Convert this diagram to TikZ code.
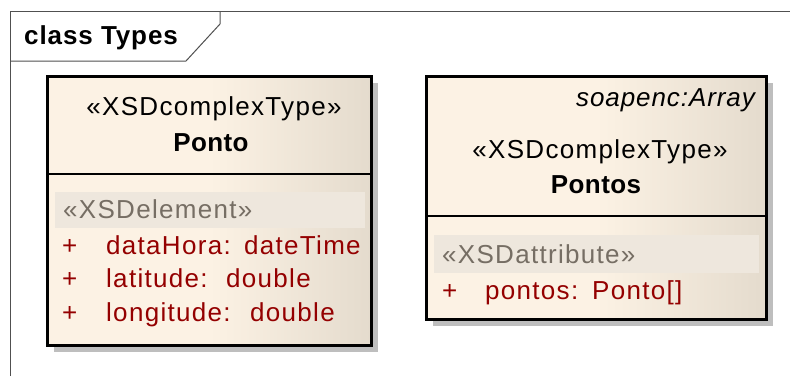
\documentclass[tikz,border=0pt]{standalone}
\usepackage{fontspec}
\setmainfont{Liberation Sans}
\newfontfamily\regfam[LetterSpace=5]{Liberation Sans}
\newfontfamily\bldfam[LetterSpace=1.5]{Liberation Sans}
\newfontfamily\titfam[LetterSpace=3.5]{Liberation Sans}
\newfontfamily\itfam[LetterSpace=3.5]{Liberation Sans}
\definecolor{cL}{RGB}{252,242,228}
\definecolor{cR}{RGB}{228,219,205}
\definecolor{bandc}{RGB}{238,231,221}
\definecolor{stereo}{RGB}{118,110,100}
\definecolor{attr}{RGB}{148,0,0}
\definecolor{framec}{RGB}{80,80,80}
\definecolor{shadowc}{RGB}{190,190,190}
\pgfdeclarehorizontalshading{cream}{100bp}{color(0bp)=(cL); color(25bp)=(cL); color(50bp)=(cL); color(75bp)=(cR); color(100bp)=(cR)}
\begin{document}
\begin{tikzpicture}[x=1pt,y=-1pt,
  classbox/.style={draw=black, line width=2.6pt, shading=cream, inner sep=0, anchor=north west},
  txt/.style={inner sep=0, font=\regfam\fontsize{26}{30}\selectfont},
  bold/.style={inner sep=0, font=\bldfam\bfseries\fontsize{26}{30}\selectfont},
  titletxt/.style={inner sep=0, font=\titfam\bfseries\fontsize{26}{30}\selectfont},
  ital/.style={inner sep=0, font=\itfam\itshape\fontsize{26}{30}\selectfont},
  ster/.style={txt, text=stereo, anchor=base west},
  att/.style={txt, text=attr, anchor=base west},
  band/.style={fill=bandc, draw=none}]
\useasboundingbox (0,0) rectangle (790,376);
\fill[white] (0,0) rectangle (790,376);
% frame
\draw[framec, line width=1pt] (10,376) -- (10,11) -- (790,11);
\draw[framec, line width=1pt] (10,61) -- (186,61) -- (220,24) -- (220,11);
\node[titletxt, anchor=base west] (title) at (24,44) {class Types};
% shadows
\fill[shadowc] (54,83) rectangle (378,352);
\fill[shadowc] (433,83) rectangle (773,326);
% Ponto
\node[classbox, minimum width=324pt, minimum height=269pt] (ponto) at (46,75) {};
\draw[line width=2.2pt] (46,174) -- (370,174);
\node[txt, anchor=base] (pst) at (214,115) {«XSDcomplexType»};
\node[bold, anchor=base] (pname) at (211,151) {Ponto};
\fill[band] (55,192) rectangle (365,228);
\node[ster] (pel) at (63,218) {«XSDelement»};
\node[att] (p1) at (62,254) {+};
\node[att] (a1) at (106,254) {dataHora:};
\node[att] (t1) at (244,254) {dateTime};
\node[att] (p2) at (62,287) {+};
\node[att] (a2) at (106,287) {latitude:};
\node[att] (t2) at (226,287) {double};
\node[att] (p3) at (62,321) {+};
\node[att] (a3) at (106,321) {longitude:};
\node[att] (t3) at (250,321) {double};
% Pontos
\node[classbox, minimum width=340pt, minimum height=243pt] (pontos) at (425,75) {};
\draw[line width=2.2pt] (425,216) -- (765,216);
\node[ital, anchor=base east] (arr) at (755,106) {soapenc:Array};
\node[txt, anchor=base] (sst) at (600,158) {«XSDcomplexType»};
\node[bold, anchor=base] (sname) at (596,193) {Pontos};
\fill[band] (434,235) rectangle (759,273);
\node[ster] (sat) at (442,263) {«XSDattribute»};
\node[att] (p4) at (442,299) {+};
\node[att] (a4) at (485,299) {pontos:};
\node[att] (t4) at (592,299) {Ponto[]};
\end{tikzpicture}
\end{document}
